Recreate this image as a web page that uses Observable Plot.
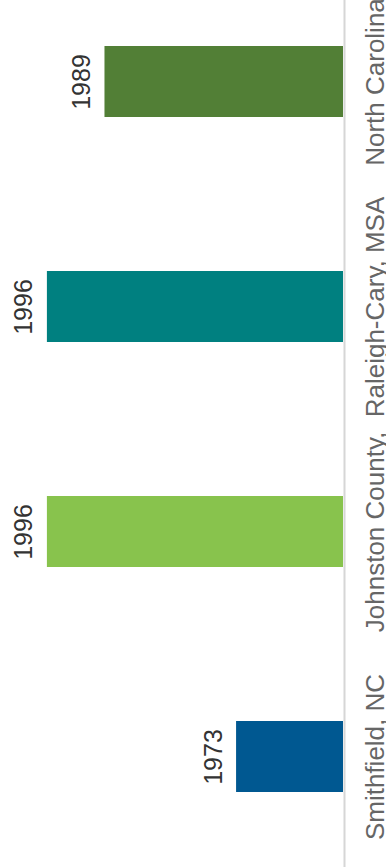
<!DOCTYPE html>
<html>
<head>
<meta charset="utf-8">
<script src="https://cdn.jsdelivr.net/npm/d3@7"></script>
<script src="https://cdn.jsdelivr.net/npm/@observablehq/plot@0.6"></script>
<style>
  html, body { margin: 0; padding: 0; background: #fff; overflow: hidden; }
  #chart svg { display: block; overflow: hidden; }
</style>
</head>
<body>
<div id="chart"></div>
<script>
// Categories (top to bottom as drawn), values and colours
const categories = ["North Carolina", "Raleigh-Cary, MSA", "Johnston County, NC", "Smithfield, NC"];
const categoryLabels = ["North Carolina", "Raleigh-Cary, MSA", "Johnston County,\nNC", "Smithfield, NC"];
const values = [1989, 1996, 1996, 1973];
const colors = ["#527f36", "#008080", "#88c34d", "#005891"];
const axisDomain = [1960, 2000];

const data = categories.map((c, i) => ({name: c, label: categoryLabels[i], value: values[i], color: colors[i]}));

const font = "'Liberation Sans', Arial, Helvetica, sans-serif";

const chart = Plot.plot({
  width: 386,
  height: 867,
  marginTop: 0,
  marginBottom: 0,
  marginLeft: 14,
  marginRight: 43,
  style: {fontFamily: font, background: "#fff"},
  x: {domain: axisDomain, reverse: true, axis: null},
  y: {domain: categories, axis: null, paddingInner: 0.684, paddingOuter: 0.268, align: 0.38},
  marks: [
    Plot.barX(data, {x1: () => axisDomain[0], x2: "value", y: "name", fill: "color"}),
    Plot.ruleX([axisDomain[0]], {stroke: "#d6d6d6", strokeWidth: 2, dx: 1}),
    Plot.text(data, {
      x: "value", y: "name", text: d => String(d.value),
      rotate: -90, lineAnchor: "bottom", dx: -15,
      fontSize: 25, fill: "#333"
    }),
    Plot.text(data, {
      x: () => axisDomain[0], y: "name", text: "label",
      rotate: -90, lineAnchor: "top", dx: 22,
      fontSize: 26, fill: "#666"
    })
  ]
});
document.getElementById("chart").append(chart);
</script>
</body>
</html>
